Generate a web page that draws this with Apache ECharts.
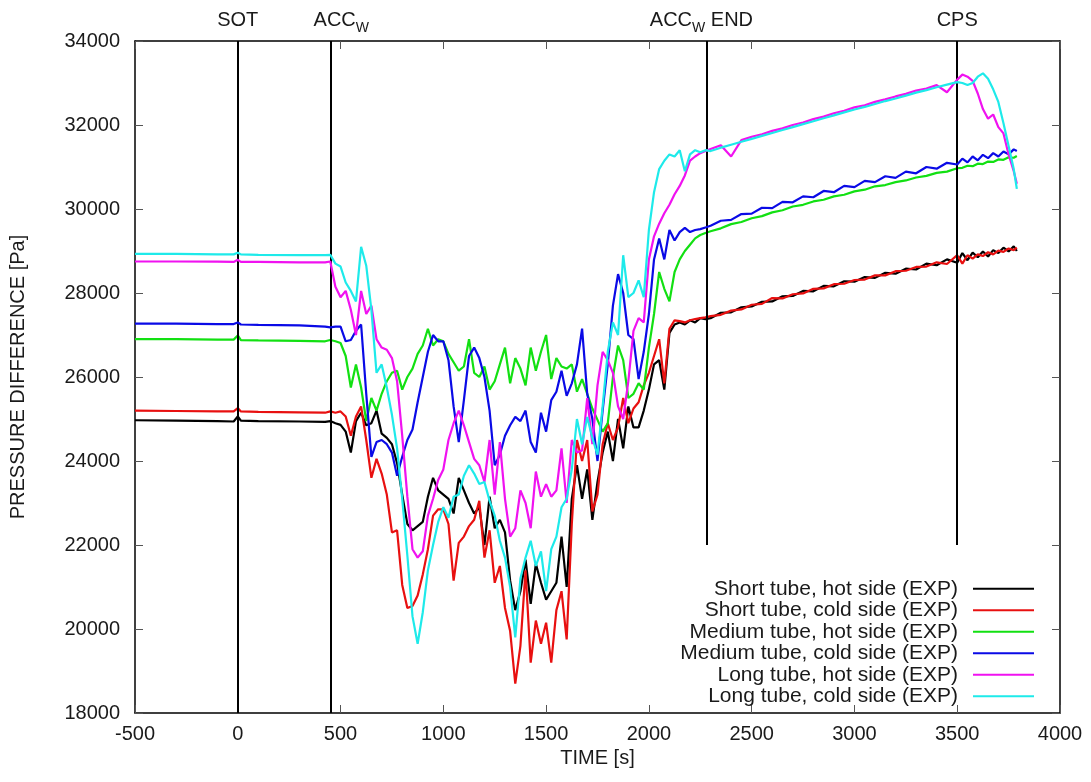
<!DOCTYPE html>
<html>
<head>
<meta charset="utf-8">
<script src="https://cdn.jsdelivr.net/npm/echarts@6/dist/echarts.min.js"></script>
<style>
  html, body { margin: 0; padding: 0; background: #ffffff; }
  #chart { width: 1091px; height: 782px; }
</style>
</head>
<body>
<div id="chart"></div>
<script>
// Sample times [s]: steady state, transient (ACC injection), slow ramp, tail after CPS
const timeS = [
  -500, -300, -100, -20, 0, 15, 100, 300, 425,
  450, 475, 500, 525, 550, 575, 600, 625, 650, 675,
  700, 725, 750, 775, 800, 825, 850, 875, 900, 925,
  950, 975, 1000, 1025, 1050, 1075, 1100, 1125, 1150, 1175,
  1200, 1225, 1250, 1275, 1300, 1325, 1350, 1375, 1400, 1425,
  1450, 1475, 1500, 1525, 1550, 1575, 1600, 1625, 1650, 1675,
  1700, 1725, 1750, 1775, 1800, 1825, 1850, 1875, 1900, 1925,
  1950, 1975, 2000, 2025, 2050, 2075, 2100, 2125, 2150, 2175,
  2200, 2225, 2250, 2275,
  2300, 2350, 2400, 2450, 2500, 2550, 2600, 2650, 2700, 2750,
  2800, 2850, 2900, 2950, 3000, 3050, 3100, 3150, 3200, 3250,
  3300, 3350, 3400, 3450, 3500,
  3525, 3550, 3575, 3600, 3625, 3650, 3675, 3700, 3725, 3750, 3775, 3790
];

// Pressure difference [Pa] per tube / side
const shortHot = [
  24970, 24960, 24950, 24940, 25060, 24960, 24950, 24940, 24930,
  24950, 24900, 24860, 24700, 24200, 24950, 25150, 24850, 24900, 25200,
  24650, 24550, 24400, 23950, 23200, 22500, 22350, 22450, 22550, 23150,
  23600, 23300, 23200, 23100, 22750, 23600, 23300, 23000, 22750, 22900,
  22000, 23150, 22400, 22600, 22300, 21150, 20450, 20900, 21650, 20600,
  21550, 21100, 20700, 20900, 21100, 22200, 21000, 23100, 23900, 23100,
  23800, 22600, 23500, 24200, 24700, 24000, 25000, 24300, 25300, 24800,
  24800, 25200, 25700, 26300, 26400, 25700, 27050, 27250, 27300, 27250,
  27350, 27300, 27400, 27380,
  27400, 27530, 27540, 27660, 27680, 27790, 27800, 27920, 27930, 28050,
  28040, 28170, 28160, 28280, 28270, 28380, 28360, 28480, 28460, 28580,
  28560, 28700, 28660, 28800, 28720,
  28950, 28780, 28960, 28850, 28990, 28870, 29020, 28950, 29080, 28990, 29110, 29000
];
const shortCold = [
  25200, 25190, 25180, 25180, 25260, 25180, 25170, 25160, 25150,
  25180, 25150, 25180, 25060, 24600, 25060, 25300, 24500, 23600, 24050,
  23700, 23200, 22300, 22350, 21050, 20500, 20550, 20800, 21300, 21900,
  22700, 22850, 22850, 22500, 21150, 22050, 22200, 22450, 22600, 23050,
  21700, 22350, 21100, 21500, 20500, 19950, 18700, 19600, 21400, 19200,
  20200, 19650, 20150, 19200, 20450, 20900, 19750, 22500, 24500, 24000,
  24500, 22800, 23200, 24400, 24900, 24500, 24800, 25500, 24900, 25250,
  25400, 25800, 26100, 26500, 26900, 25850, 27150, 27350, 27330, 27300,
  27350, 27380, 27400, 27420,
  27450, 27480, 27580, 27610, 27720, 27740, 27880, 27870, 27970, 27990,
  28100, 28110, 28210, 28220, 28310, 28320, 28420, 28420, 28520, 28530,
  28620, 28630, 28730, 28690, 28900,
  28700, 28900, 28820, 28920, 28880, 28970, 28920, 29010, 28980, 29060, 29020, 29080
];
const mediumHot = [
  26900, 26900, 26890, 26890, 26990, 26880, 26870, 26860, 26850,
  26880, 26850, 26810, 26500, 25750, 26300, 25750, 24950, 25500, 25200,
  25600, 25900, 26100, 26150, 25700, 26000, 26200, 26550, 26750, 27150,
  26750, 26900, 26850, 26550, 26350, 26150, 26250, 26900, 26100, 26000,
  26250, 25700, 25900, 26300, 26700, 25850, 26450, 26200, 25800, 26700,
  26150, 26600, 27000, 25950, 26450, 26250, 26200, 26300, 25650, 25950,
  25600, 25250, 24980, 24700, 24900, 26000, 26750, 26400, 25500, 25600,
  25850, 25700, 26700, 27500, 28500, 28100, 27800, 28500, 28800, 29000,
  29150, 29300, 29380, 29430,
  29470, 29540, 29640, 29690, 29780, 29830, 29920, 29970, 30060, 30100,
  30180, 30220, 30300, 30340, 30420, 30460, 30540, 30570, 30640, 30680,
  30750, 30790, 30860, 30890, 30970,
  30980, 31030, 31020, 31080, 31070, 31130, 31120, 31180, 31170, 31230, 31220, 31260
];
const mediumCold = [
  27270, 27270, 27260, 27260, 27300, 27250, 27240, 27230, 27200,
  27180, 27200, 27200, 26850, 26880, 27100, 27250, 25600, 24100, 24450,
  24500, 24400, 24200, 23650, 24100, 24500, 24750, 25400, 26000, 26600,
  27000, 26850, 26850, 26400, 25300, 24450, 25450, 26500, 26700, 26450,
  26000, 25200, 23900, 24150, 24600, 24850, 25050, 24950, 25200, 24450,
  24200, 25150, 24700, 25450, 25650, 26150, 25550, 25850, 26300, 27150,
  25600, 25000, 24000, 25200, 26300, 27700, 28450, 28000, 27000, 26900,
  25950, 26600, 27500, 28800, 29300, 28800, 29500, 29250, 29450, 29550,
  29450, 29500, 29520, 29560,
  29600, 29720, 29740, 29880, 29890, 30030, 30020, 30170, 30160, 30300,
  30280, 30430, 30400, 30550, 30520, 30670, 30640, 30780, 30740, 30890,
  30850, 31000, 30960, 31100, 31060,
  31200, 31110, 31250, 31160, 31290, 31210, 31330, 31250, 31370, 31300, 31420, 31380
];
const longHot = [
  28750, 28750, 28745, 28740, 28790, 28740, 28740, 28730, 28730,
  28750, 28150, 27900, 28050, 27600, 27000, 28050, 27500, 27700, 26900,
  26700, 26650, 26450, 25900, 24600, 23150, 21900, 21700, 21850, 22700,
  23100, 23550, 23800, 24500, 24900, 25200, 24850, 24450, 24050, 23900,
  23500, 24500, 23200, 24450, 23100, 22200, 22400, 23300, 23000, 22400,
  23750, 23150, 23450, 23150, 23300, 24300, 23000, 24500, 24200, 24250,
  25500, 24400, 25800, 26600, 26400, 26100, 25300, 25000, 25900, 27100,
  27400, 27300, 28800, 29350, 29650, 29900, 30100, 30350, 30550, 30800,
  31150, 31250, 31330, 31380,
  31430, 31520, 31250, 31640, 31720, 31780, 31860, 31920, 32000, 32060,
  32140, 32200, 32280, 32340, 32420, 32470, 32550, 32610, 32680, 32740,
  32820, 32870, 32950, 32780, 33080,
  33200, 33150, 33050, 32750, 32380, 32150, 32250, 31950, 31800, 31300, 30900, 30600
];
const longCold = [
  28930, 28930, 28920, 28920, 28960, 28920, 28910, 28900, 28900,
  28910, 28700, 28630, 28250, 28050, 27800, 29100, 28650, 27600, 26100,
  26300, 25750, 25100, 24300, 23100, 21750, 20300, 19650, 20400, 21400,
  22000, 22550, 22900, 22650, 23150, 23200, 23650, 23900, 23700, 23450,
  23500, 23050, 22700, 22100, 21700, 21000, 19800, 21200, 21700, 22100,
  21500, 21850, 20900, 21900, 22200, 22900, 23100, 23800, 25000, 24400,
  25050, 24550, 24150, 25300, 26600, 27300, 27000, 28900, 27900, 28000,
  28300, 27900, 29500, 30400, 30950, 31150, 31300, 31250, 31400, 30900,
  31300, 31400, 31350, 31400,
  31380, 31460, 31530, 31600, 31670, 31740, 31810, 31880, 31950, 32020,
  32090, 32160, 32230, 32300, 32370, 32430, 32500, 32570, 32630, 32700,
  32770, 32830, 32900, 32960, 33020,
  33000, 32950, 33000, 33150, 33230, 33100, 32850, 32550, 32040, 31500, 30950, 30480
];

const seriesNames = [
  'Short tube, hot side (EXP)',
  'Short tube, cold side (EXP)',
  'Medium tube, hot side (EXP)',
  'Medium tube, cold side (EXP)',
  'Long tube, hot side (EXP)',
  'Long tube, cold side (EXP)'
];
const seriesValues = [shortHot, shortCold, mediumHot, mediumCold, longHot, longCold];
const seriesColors = ['#000000', '#e81010', '#12e012', '#0a0ae6', '#f012f0', '#1eeaea'];

// Event markers: start of transient, accumulator injection, end of injection, CPS
const eventTimes = [0, 450, 2280, 3500];
const eventNames = ['SOT', '{a|ACC}{s|W}', '{a|ACC}{s|W}{a| END}', 'CPS'];
const eventFloor = [18000, 18000, 22000, 22000];
const eventLabelShift = [0, 11, -5, 0];

const X_MIN = -500, X_MAX = 4000, X_STEP = 500;
const Y_MIN = 18000, Y_MAX = 34000, Y_STEP = 2000;

const FONT = '"Liberation Sans", Arial, Helvetica, sans-serif';
const TXT = '#1a1a1a';
const plainNumber = v => String(v);

const chart = echarts.init(document.getElementById('chart'), null, { renderer: 'canvas' });

const mkX = (pos, withLabels) => ({
  type: 'value', position: pos, min: X_MIN, max: X_MAX, interval: X_STEP,
  axisLine: { show: true, onZero: false, lineStyle: { color: '#000', width: 1.5 } },
  axisTick: { show: true, inside: true, length: 8, lineStyle: { color: '#555', width: 1 } },
  axisLabel: { show: withLabels, margin: 11, fontSize: 20, color: TXT, fontFamily: FONT, formatter: plainNumber },
  splitLine: { show: false }
});
const mkY = (pos, withLabels) => ({
  type: 'value', position: pos, min: Y_MIN, max: Y_MAX, interval: Y_STEP,
  axisLine: { show: true, onZero: false, lineStyle: { color: '#000', width: 1.5 } },
  axisTick: { show: true, inside: true, length: 8, lineStyle: { color: '#555', width: 1 } },
  axisLabel: { show: withLabels, margin: 15, fontSize: 20, color: TXT, fontFamily: FONT, formatter: plainNumber },
  splitLine: { show: false }
});

const xBottom = Object.assign(mkX('bottom', true), {
  name: 'TIME [s]', nameLocation: 'middle', nameGap: 28,
  nameTextStyle: { fontSize: 20, color: TXT, fontFamily: FONT, verticalAlign: 'top' }
});
const yLeft = Object.assign(mkY('left', true), {
  name: 'PRESSURE DIFFERENCE [Pa]', nameLocation: 'middle', nameGap: 107,
  nameTextStyle: { fontSize: 20, color: TXT, fontFamily: FONT }
});

const eventLines = eventTimes.map((t, i) => [
  {
    coord: [t, eventFloor[i]],
    label: { formatter: eventNames[i], offset: [eventLabelShift[i], 0] }
  },
  { coord: [t, Y_MAX] }
]);

const lineSeries = seriesNames.map((name, i) => ({
  name: name,
  type: 'line',
  xAxisIndex: 0,
  yAxisIndex: 0,
  symbol: 'none',
  showSymbol: false,
  smooth: false,
  color: seriesColors[i],
  lineStyle: { color: seriesColors[i], width: 2.2 },
  data: timeS.map((t, k) => [t, seriesValues[i][k]]),
  z: 2 + i
}));

lineSeries.push({
  name: 'events',
  type: 'line',
  data: [],
  symbol: 'none',
  z: 10,
  markLine: {
    silent: true,
    symbol: ['none', 'none'],
    animation: false,
    lineStyle: { color: '#000', width: 2, type: 'solid' },
    label: {
      show: true,
      position: 'end',
      distance: 11,
      color: TXT,
      fontSize: 20,
      fontFamily: FONT,
      rich: {
        a: { fontSize: 20, fontFamily: FONT, color: TXT, lineHeight: 20, verticalAlign: 'top' },
        s: { fontSize: 14, fontFamily: FONT, color: TXT, lineHeight: 14, padding: [11, 0, 0, 0], verticalAlign: 'top' }
      }
    },
    data: eventLines
  }
});

chart.setOption({
  animation: false,
  backgroundColor: '#ffffff',
  grid: { left: 134, right: 31, top: 41, bottom: 69, containLabel: false },
  textStyle: { fontFamily: FONT },
  legend: {
    data: seriesNames,
    orient: 'vertical',
    right: 52,
    top: 573,
    align: 'right',
    icon: 'rect',
    itemWidth: 61,
    itemHeight: 2,
    itemGap: 0,
    selectedMode: false,
    textStyle: { fontSize: 21, color: TXT, fontFamily: FONT, lineHeight: 21.5, padding: [0, 10, 0, 0] }
  },
  xAxis: [xBottom, mkX('top', false)],
  yAxis: [yLeft, mkY('right', false)],
  series: lineSeries
});
</script>
</body>
</html>
